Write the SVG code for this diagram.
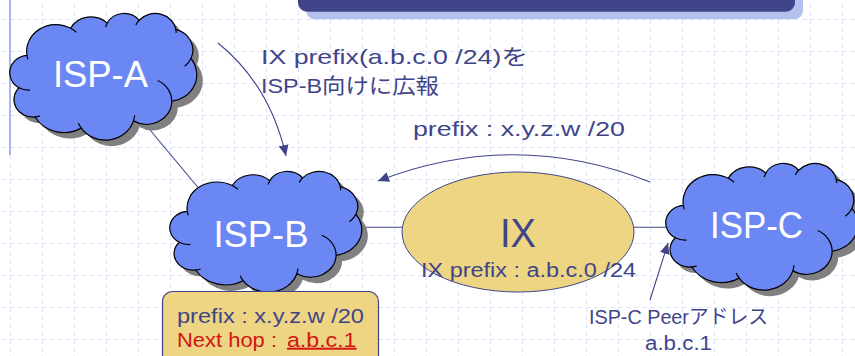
<svg xmlns="http://www.w3.org/2000/svg" xmlns:xlink="http://www.w3.org/1999/xlink" width="855" height="356" viewBox="0 0 855 356">
<style>
.lbl{font-family:"Liberation Sans","Noto Sans CJK JP",sans-serif;font-size:20px;fill:#404589}
.cj{font-family:"Liberation Sans","Noto Sans CJK JP",sans-serif;font-size:21px;fill:#404589}
.cloudtxt{font-family:"Liberation Sans",sans-serif;font-size:37px;fill:#ffffff;text-anchor:middle}
.red{font-family:"Liberation Sans",sans-serif;font-size:20px;fill:#D51414}
.conn{stroke:#404589;stroke-width:1.1;fill:none}
.cfill{fill:#6A87F4;stroke:#000;stroke-width:1.2}
.cshadow{fill:#808080;stroke:none}
.cinner{fill:none;stroke:#000;stroke-width:1.2}
</style>
<defs>
<pattern id="grid" patternUnits="userSpaceOnUse" x="10" y="19" width="32" height="32">
<path d="M0,0.5 H32" stroke="#E0E6F8" stroke-width="1" stroke-dasharray="5 3"/>
<path d="M0.5,0 V32" stroke="#E0E6F8" stroke-width="1" stroke-dasharray="5 3"/>
</pattern>
<path id="cloudOutline" d="M17.15,41.58 A29.70,26.59 0 0 1 61.60,15.05 A23.46,21.03 0 0 1 98.77,9.93 A19.20,17.20 0 0 1 131.21,7.17 A21.36,19.08 0 0 1 168.53,16.13 A23.46,21.04 0 0 1 183.92,44.73 A29.80,26.68 0 0 1 164.40,87.07 A25.44,22.76 0 0 1 125.49,106.19 A29.70,26.66 0 0 1 72.38,113.29 A33.95,30.51 0 0 1 25.43,102.32 A19.18,17.12 0 0 1 9.19,73.62 A19.11,17.20 0 0 1 16.88,41.66 Z"/>
<path id="cloudInner" d="M20.32,75.92 A19.11,17.20 0 0 1 9.19,73.62 M30.31,101.22 A19.18,17.12 0 0 1 25.43,102.32 M72.38,113.29 A29.70,26.66 0 0 1 69.44,108.25 M126.66,100.67 A29.70,26.66 0 0 1 125.49,106.19 M150.10,66.42 A25.44,22.76 0 0 1 164.40,87.07 M183.92,44.73 A23.46,21.04 0 0 1 177.55,52.47 M168.53,16.13 A21.36,19.08 0 0 1 168.86,19.79 M127.94,11.84 A21.36,19.08 0 0 1 131.21,7.17 M97.19,13.95 A19.20,17.20 0 0 1 98.77,9.93 M61.60,15.05 A29.70,26.59 0 0 1 67.30,18.95 M18.15,45.69 A29.70,26.59 0 0 1 17.15,41.58"/>
<marker id="arrow" markerUnits="userSpaceOnUse" markerWidth="12" markerHeight="10" refX="11" refY="5" orient="auto" viewBox="0 0 12 10">
<path d="M0,0 L11,5 L0,10 Z" fill="#404589"/>
</marker>
</defs>

<rect x="0" y="0" width="855" height="356" fill="#ffffff"/>
<rect x="0" y="0" width="855" height="356" fill="url(#grid)"/>
<line x1="10" y1="0" x2="10" y2="155" stroke="#A8B5F0" stroke-width="2"/>

<g id="title-bar">
<rect x="306" y="-14" width="497" height="33.3" rx="9" fill="#B4C1EE"/>
<rect x="298" y="-21" width="497" height="32.7" rx="9" fill="#404589"/>
</g>

<g id="connectors">
<line class="conn" x1="140" y1="118" x2="206" y2="197"/>
<line class="conn" x1="355" y1="227.3" x2="406" y2="227.3"/>
<line class="conn" x1="630" y1="227.3" x2="672" y2="227.3"/>
<path class="conn" d="M218,43 Q270,85 286,156" marker-end="url(#arrow)"/>
<path class="conn" d="M650,182 Q515,128 378,181" marker-end="url(#arrow)"/>
<path class="conn" d="M650,300 L668,243" marker-end="url(#arrow)"/>
</g>

<g id="isp-a">
<g transform="translate(16,19) scale(0.984,1.016)"><use xlink:href="#cloudOutline" class="cshadow"/></g>
<g transform="translate(10,13) scale(0.984,1.016)"><use xlink:href="#cloudOutline" class="cfill" vector-effect="non-scaling-stroke"/><use xlink:href="#cloudInner" class="cinner" vector-effect="non-scaling-stroke"/></g>
<text class="cloudtxt" x="100.5" y="87" textLength="95" lengthAdjust="spacingAndGlyphs">ISP-A</text>
</g>

<g id="isp-b">
<g transform="translate(176,177) scale(1.0105,0.968)"><use xlink:href="#cloudOutline" class="cshadow"/></g>
<g transform="translate(170,171) scale(1.0105,0.968)"><use xlink:href="#cloudOutline" class="cfill" vector-effect="non-scaling-stroke"/><use xlink:href="#cloudInner" class="cinner" vector-effect="non-scaling-stroke"/></g>
<text class="cloudtxt" x="261" y="247" textLength="95" lengthAdjust="spacingAndGlyphs">ISP-B</text>
</g>

<g id="isp-c">
<g transform="translate(672,169) scale(1.0105,1.016)"><use xlink:href="#cloudOutline" class="cshadow"/></g>
<g transform="translate(666,163) scale(1.0105,1.016)"><use xlink:href="#cloudOutline" class="cfill" vector-effect="non-scaling-stroke"/><use xlink:href="#cloudInner" class="cinner" vector-effect="non-scaling-stroke"/></g>
<text class="cloudtxt" x="756.5" y="238" textLength="93" lengthAdjust="spacingAndGlyphs">ISP-C</text>
</g>

<g id="ix">
<ellipse cx="518" cy="232" rx="116" ry="60" fill="#EDD583" stroke="#404589" stroke-width="1"/>
<text x="518" y="247" text-anchor="middle" font-family="Liberation Sans, sans-serif" font-size="41" fill="#404589" textLength="36" lengthAdjust="spacingAndGlyphs">IX</text>
<text class="lbl" x="421" y="276.5" textLength="215" lengthAdjust="spacingAndGlyphs">IX prefix : a.b.c.0 /24</text>
</g>

<g id="isp-b-route">
<rect x="162.5" y="291.5" width="216" height="80" rx="10" fill="#EDD583" stroke="#404589" stroke-width="1.2"/>
<text class="lbl" x="177" y="323.3" textLength="187" lengthAdjust="spacingAndGlyphs">prefix : x.y.z.w /20</text>
<text class="red" x="177" y="346.7" textLength="100" lengthAdjust="spacingAndGlyphs">Next hop :</text>
<text class="red" x="287" y="346.7" textLength="69.5" lengthAdjust="spacingAndGlyphs" text-decoration="underline">a.b.c.1</text>
</g>

<g id="label-advertise">
<text class="cj" x="261" y="64" textLength="267" lengthAdjust="spacingAndGlyphs">IX prefix(a.b.c.0 /24)を</text>
<text class="cj" x="261" y="93" textLength="178" lengthAdjust="spacingAndGlyphs">ISP-B向けに広報</text>
</g>

<g id="label-prefix">
<text class="lbl" x="413" y="136" textLength="212" lengthAdjust="spacingAndGlyphs">prefix : x.y.z.w /20</text>
</g>

<g id="label-peer">
<text class="lbl" x="589" y="324" textLength="179" lengthAdjust="spacingAndGlyphs">ISP-C Peerアドレス</text>
<text class="lbl" x="645" y="350" textLength="67" lengthAdjust="spacingAndGlyphs">a.b.c.1</text>
</g>
</svg>
